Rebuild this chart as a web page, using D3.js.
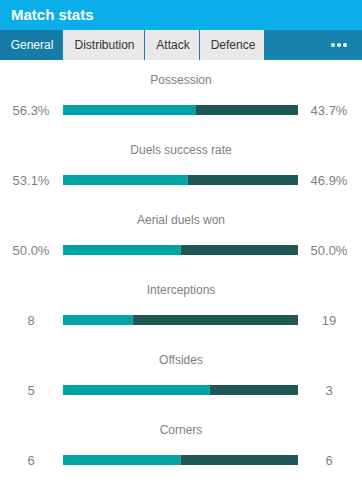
<!DOCTYPE html>
<html>
<head>
<meta charset="utf-8">
<script src="https://cdn.jsdelivr.net/npm/d3@7"></script>
<style>
    body { margin: 0; background: #fff; font-family: "Liberation Sans", Arial, sans-serif; }
</style>
</head>
<body>
<svg id="chart" width="362" height="487"></svg>
<script>
const statNames = ["Possession", "Duels success rate", "Aerial duels won", "Interceptions", "Offsides", "Corners"];
const homeValues = [56.3, 53.1, 50.0, 8, 5, 6];
const awayValues = [43.7, 46.9, 50.0, 19, 3, 6];
const isPercent = [true, true, true, false, false, false];
const tabNames = ["General", "Distribution", "Attack", "Defence"];

const svg = d3.select("#chart");
const W = 362;

// header
svg.append("rect").attr("x", 0).attr("y", 0).attr("width", W).attr("height", 30).attr("fill", "#0aaeea");
svg.append("text").attr("x", 11).attr("y", 20).text("Match stats")
    .attr("fill", "#fff").attr("font-size", "15px").attr("font-weight", "bold");

// tab bar
svg.append("rect").attr("x", 0).attr("y", 30).attr("width", W).attr("height", 30).attr("fill", "#1682ad");
const tabX = [0, 63, 145, 200];
const tabW = [62, 81, 54, 64];
tabNames.forEach((t, i) => {
    svg.append("rect").attr("x", tabX[i]).attr("y", 30).attr("width", tabW[i]).attr("height", 30)
        .attr("fill", i === 0 ? "#147ca6" : "#e9e9e9");
    svg.append("text").attr("x", tabX[i] + tabW[i] / 2 + 1).attr("y", 49).text(t)
        .attr("text-anchor", "middle").attr("font-size", "12px")
        .attr("fill", i === 0 ? "#fff" : "#333");
});
[333, 339, 345].forEach(cx => {
    svg.append("circle").attr("cx", cx).attr("cy", 45).attr("r", 2).attr("fill", "#fff");
});

// rows
const y = d3.scaleLinear().domain([0, statNames.length - 1]).range([84, 434]);
const fmt = (v, p) => p ? d3.format(".1f")(v) + "%" : String(v);

statNames.forEach((name, i) => {
    const x = d3.scaleLinear().domain([0, homeValues[i] + awayValues[i]]).range([63, 298]);
    const g = svg.append("g");
    const yy = y(i);

    g.append("text").attr("x", 181).attr("y", yy).text(name)
        .attr("text-anchor", "middle").attr("font-size", "12px").attr("fill", "#808080");

    g.append("rect").attr("x", x(0)).attr("y", yy + 21).attr("width", x(homeValues[i]) - x(0)).attr("height", 10)
        .attr("fill", "#00a4a5");
    g.append("rect").attr("x", x(homeValues[i])).attr("y", yy + 21)
        .attr("width", x(homeValues[i] + awayValues[i]) - x(homeValues[i])).attr("height", 10)
        .attr("fill", "#1f5756");

    g.append("text").attr("x", 31).attr("y", yy + 31).text(fmt(homeValues[i], isPercent[i]))
        .attr("text-anchor", "middle").attr("font-size", "13px").attr("fill", "#808080");
    g.append("text").attr("x", 329).attr("y", yy + 31).text(fmt(awayValues[i], isPercent[i]))
        .attr("text-anchor", "middle").attr("font-size", "13px").attr("fill", "#808080");
});
</script>
</body>
</html>
